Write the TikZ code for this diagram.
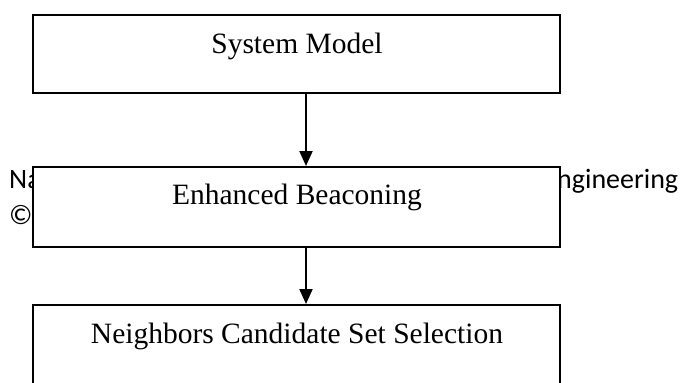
\documentclass[tikz,border=0pt]{standalone}
\usepackage{fontspec}
\setmainfont{Liberation Serif}
\newfontfamily\bgfont{Carlito}
\usetikzlibrary{arrows.meta}
\begin{document}
\begin{tikzpicture}[x=1pt,y=-1pt,
  stagebox/.style={draw=black,line width=2pt,fill=white,rectangle,inner sep=0pt,minimum width=527pt},
  stagetext/.style={anchor=base,inner sep=0pt,font=\fontsize{29.5}{32}\selectfont},
  bgtext/.style={anchor=base west,inner sep=0pt,font=\bgfont\fontsize{28}{32}\selectfont},
  flow/.style={line width=2pt,-{Triangle[width=13pt,length=15pt]}}]
\useasboundingbox (0,0) rectangle (681,383);
\clip (0,0) rectangle (681,383);
% partly hidden background text
\node[bgtext] (bg1) at (9,188) {Na};
\node[bgtext] (bg2) at (9,224) {©};
\node[bgtext] (bg3) at (557,188) {ngineering};
% boxes
\node[stagebox,minimum height=78pt] (b1) at (296.5,54) {};
\node[stagebox,minimum height=80pt] (b2) at (296.5,207) {};
\node[stagebox,minimum height=100pt] (b3) at (296.5,355) {};
% texts
\node[stagetext] (t1) at (297,53) {System Model};
\node[stagetext] (t2) at (297,204) {Enhanced Beaconing};
\node[stagetext] (t3) at (297,343) {Neighbors Candidate Set Selection};
% arrows
\coordinate (ax) at (306,0);
\draw[flow] (b1.south -| ax) -- (b2.north -| ax);
\draw[flow] (b2.south -| ax) -- (b3.north -| ax);
\end{tikzpicture}
\end{document}
